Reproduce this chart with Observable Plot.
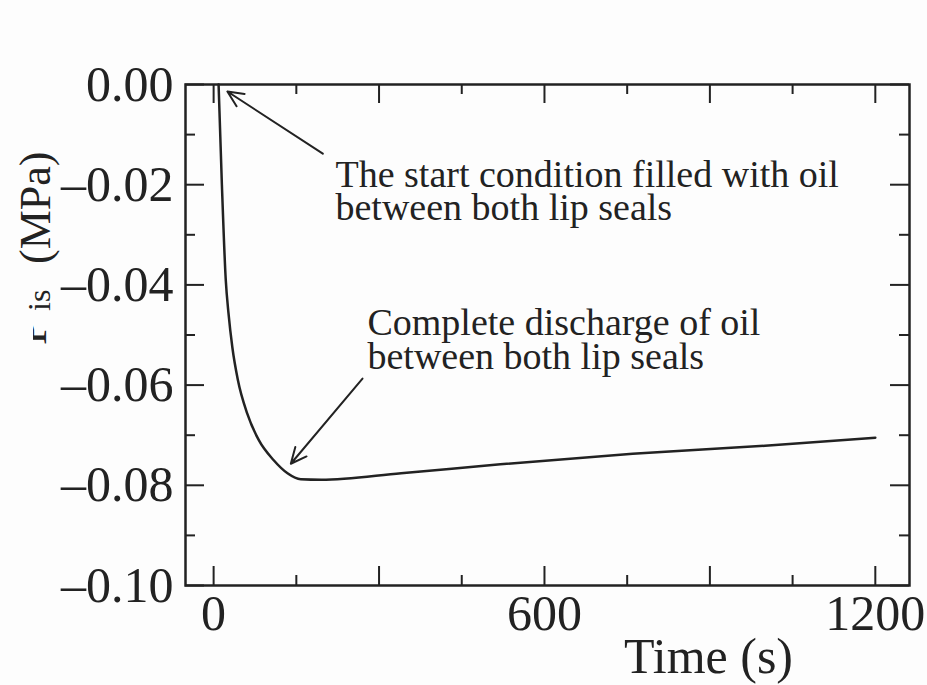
<!DOCTYPE html>
<html>
<head>
<meta charset="utf-8">
<script src="https://cdn.jsdelivr.net/npm/d3@7"></script>
<script src="https://cdn.jsdelivr.net/npm/@observablehq/plot@0.6"></script>
<style>
  body { margin: 0; background: #fdfdfd; }
  #chart svg { display: block; }
</style>
</head>
<body>
<div id="chart"></div>
<script>
// Pressure between the two lip seals (MPa) against elapsed time (s)
const time = [9, 15, 22, 27, 34, 44, 61, 82, 109, 134, 158, 195, 340, 520, 760, 1000, 1200];
const pressure = [0, -0.02, -0.039, -0.0457, -0.0525, -0.059, -0.0657, -0.071, -0.075, -0.0776,
                  -0.0788, -0.0789, -0.0776, -0.0758, -0.0737, -0.0721, -0.0705];

// Axis ticks
const xMajor = [0, 300, 600, 900, 1200];
const xMinor = [150, 450, 750, 1050];
const xLabels = [0, 600, 1200];
const yMajor = [0, -0.02, -0.04, -0.06, -0.08, -0.10];
const yMinor = [-0.01, -0.03, -0.05, -0.07, -0.09];

// Annotations: text anchored at the last line's baseline, arrows from text to curve
const noteText = [
  "The start condition filled with oil\nbetween both lip seals",
  "Complete discharge of oil\nbetween both lip seals"
];
const noteTime = [221, 279];
const notePressure = [-0.0271, -0.0567];
const arrowFromTime = [198, 270];
const arrowFromPressure = [-0.0138, -0.0587];
const arrowToTime = [25, 140];
const arrowToPressure = [-0.0014, -0.0757];

const W = 927, H = 685;
const margin = {top: 84, right: 18, bottom: 100, left: 185};
const frameW = W - margin.left - margin.right;
const frameH = H - margin.top - margin.bottom;
const ink = "#222";
const serif = "'Liberation Serif', 'Times New Roman', Times, serif";

const curve = time.map((t, i) => ({t, p: pressure[i]}));
const notes = noteText.map((text, i) => ({text, t: noteTime[i], p: notePressure[i]}));
const arrows = arrowFromTime.map((t, i) => ({
  x1: t, y1: arrowFromPressure[i], x2: arrowToTime[i], y2: arrowToPressure[i]
}));

const majorLen = 19, minorLen = 10;

const plot = Plot.plot({
  width: W,
  height: H,
  marginTop: margin.top,
  marginRight: margin.right,
  marginBottom: margin.bottom,
  marginLeft: margin.left,
  x: {domain: [-51, 1262]},
  y: {domain: [-0.1, 0]},
  style: {fontFamily: serif, background: "transparent", color: ink},
  marks: [
    // inward ticks on all four sides
    Plot.ruleX(xMajor, {stroke: ink, strokeWidth: 2, insetTop: frameH - majorLen}),
    Plot.ruleX(xMinor, {stroke: ink, strokeWidth: 2, insetTop: frameH - minorLen}),
    Plot.ruleX(xMajor, {stroke: ink, strokeWidth: 2, insetBottom: frameH - majorLen}),
    Plot.ruleX(xMinor, {stroke: ink, strokeWidth: 2, insetBottom: frameH - minorLen}),
    Plot.ruleY(yMajor, {stroke: ink, strokeWidth: 2, insetRight: frameW - majorLen}),
    Plot.ruleY(yMinor, {stroke: ink, strokeWidth: 2, insetRight: frameW - minorLen}),
    Plot.ruleY(yMajor, {stroke: ink, strokeWidth: 2, insetLeft: frameW - majorLen}),
    Plot.ruleY(yMinor, {stroke: ink, strokeWidth: 2, insetLeft: frameW - minorLen}),
    Plot.frame({stroke: ink, strokeWidth: 2.5}),
    Plot.line(curve, {x: "t", y: "p", curve: "monotone-x", stroke: ink, strokeWidth: 2.5}),
    Plot.arrow(arrows, {x1: "x1", y1: "y1", x2: "x2", y2: "y2", stroke: ink, strokeWidth: 2,
                        headLength: 13, headAngle: 50}),
    Plot.text(notes, {x: "t", y: "p", text: "text", textAnchor: "start", lineAnchor: "bottom",
                      lineHeight: 0.88, fontSize: 38, fill: ink}),
    Plot.axisX(xLabels, {tickSize: 0, tickPadding: 9, fontSize: 50, label: null,
                         tickFormat: d => String(d)}),
    Plot.axisY(yMajor, {tickSize: 0, tickPadding: 12, fontSize: 50, label: null,
                        tickFormat: d => (d < 0 ? "\u2013" : "") + Math.abs(d).toFixed(2)}),
    Plot.text(["Time (s)"], {text: d => d, frameAnchor: "bottom", dx: 161, dy: 87,
                             lineAnchor: "bottom", fontSize: 50, fill: ink})
  ]
});

// Rotated y-axis title: P with subscript "is", then the unit (read bottom to top)
const svg = d3.select(plot);
svg.append("defs").append("clipPath").attr("id", "ytitle-clip")
  .append("rect").attr("x", 33).attr("y", 290).attr("width", 40).attr("height", 70);
const title = svg.append("g")
  .attr("font-family", serif)
  .attr("fill", ink)
  .attr("text-anchor", "start");
title.append("g").attr("clip-path", "url(#ytitle-clip)")
  .append("text")
  .attr("transform", "translate(46,345) rotate(-90)")
  .attr("font-size", 46)
  .text("P");
title.append("text")
  .attr("transform", "translate(50,311) rotate(-90)")
  .attr("font-size", 32)
  .text("is");
title.append("text")
  .attr("transform", "translate(50,264) rotate(-90)")
  .attr("font-size", 44)
  .text("(MPa)");

document.getElementById("chart").append(plot);
</script>
</body>
</html>
